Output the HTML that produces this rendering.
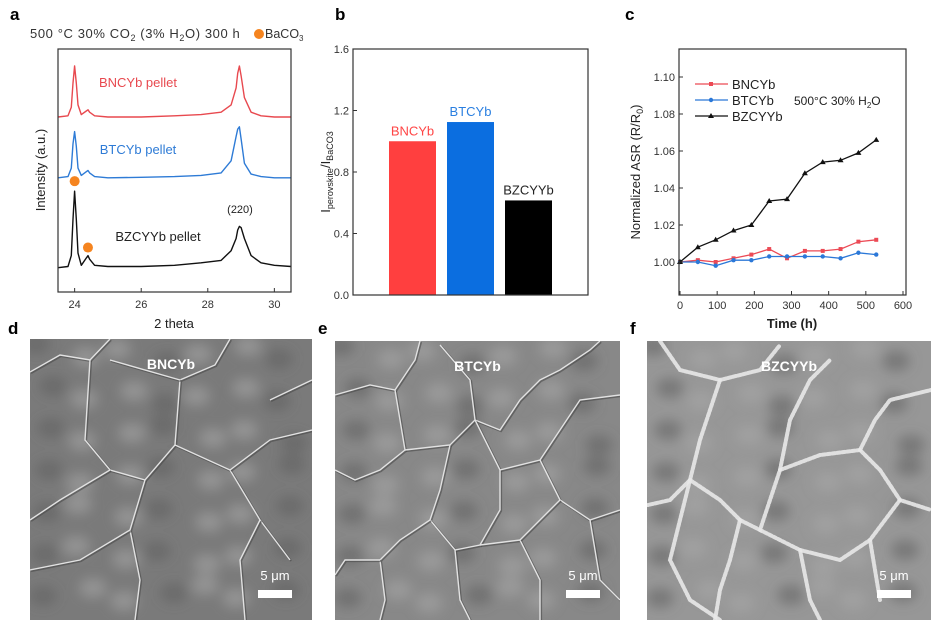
<!DOCTYPE html>
<html><head><meta charset="utf-8"><style>
html,body{margin:0;padding:0;background:#fff;}
svg{display:block;font-family:"Liberation Sans",Arial,sans-serif;}
</style></head><body>
<svg id="fig" width="931" height="631" viewBox="0 0 931 631" xmlns="http://www.w3.org/2000/svg">
<defs>
<filter id="blur6"><feGaussianBlur stdDeviation="6"/></filter>
<clipPath id="cd"><rect x="30" y="339" width="282" height="281"/></clipPath>
<clipPath id="ce"><rect x="335" y="341" width="285" height="279"/></clipPath>
<clipPath id="cf"><rect x="647" y="341" width="284" height="279"/></clipPath>
</defs>
<text x="10" y="20" font-size="17" font-weight="bold">a</text>
<text x="335" y="20" font-size="17" font-weight="bold">b</text>
<text x="625" y="20" font-size="17" font-weight="bold">c</text>
<text x="8" y="334" font-size="17" font-weight="bold">d</text>
<text x="318" y="334" font-size="17" font-weight="bold">e</text>
<text x="630" y="334" font-size="17" font-weight="bold">f</text>

<g id="pa"></g>
<g id="pb"></g>
<g id="pc"></g>
<g id="sem"></g>
</svg>
<script>
const NS="http://www.w3.org/2000/svg";
function mk(parent,tag,attrs,text){const e=document.createElementNS(NS,tag);for(const k in attrs)e.setAttribute(k,attrs[k]);if(text!==undefined)e.textContent=text;parent.appendChild(e);return e;}

// ---------- Panel a data ----------
const xrdTheta=[23.5,23.8,23.9,23.95,24.0,24.05,24.1,24.2,24.35,24.4,24.45,24.6,25,26,27,27.8,28.4,28.7,28.85,28.9,28.95,29.0,29.1,29.3,29.6,30,30.5];
const xrdBNCYb=[72,72.5,76,86,93,86,77,73,74.5,75,74,72.5,72,72,72.5,73,74,77,84,90,93,89,80,74,72.5,72,72];
const xrdBTCYb=[47,47.5,51,61,66,60,51,48,49.5,50,49,47.5,47,47.2,47.5,48,49,54,64,67,68,63,53,48.5,47.5,47,47];
const xrdBZCYYb=[10,10.5,15,30,41.5,30,16,11,14,15,13.5,11,10.5,10.5,11,12,13,17,22,25.5,27,26.5,22,15,12,11,10.5];
const xrdTicks=[24,26,28,30];

// ---------- Panel b data ----------
const barCats=["BNCYb","BTCYb","BZCYYb"];
const barVals=[1.0,1.125,0.615];
const barTicks=[0.0,0.4,0.8,1.2,1.6];

// ---------- Panel c data ----------
const asrTime=[0,48,96,144,192,240,288,336,384,432,480,528];
const asrBNCYb=[1.000,1.001,1.000,1.002,1.004,1.007,1.002,1.006,1.006,1.007,1.011,1.012];
const asrBTCYb=[1.000,1.000,0.998,1.001,1.001,1.003,1.003,1.003,1.003,1.002,1.005,1.004];
const asrBZCYYb=[1.000,1.008,1.012,1.017,1.020,1.033,1.034,1.048,1.054,1.055,1.059,1.066];
const asrXTicks=[0,100,200,300,400,500,600];
const asrYTicks=[1.00,1.02,1.04,1.06,1.08,1.10];

// ===== Panel a =====
(function(){
const g=document.getElementById('pa');
const X0=58,X1=291,Y0=49,Y1=292;
const xs=v=>X0+(v-23.5)/(30.5-23.5)*(X1-X0);
const ys=v=>Y1-v/100*(Y1-Y0);
let t=mk(g,'text',{x:30,y:38,'font-size':13,'letter-spacing':0.6,fill:'#333'});


t.innerHTML='500 °C 30% CO<tspan font-size="9" dy="3">2</tspan><tspan dy="-3"> (3% H</tspan><tspan font-size="9" dy="3">2</tspan><tspan dy="-3">O) 300 h</tspan>';
let c=mk(g,'circle',{cx:259,cy:34,r:5,fill:'#f5841f'});


t=mk(g,'text',{x:265,y:38,'font-size':12.5,fill:'#333'});


t.innerHTML='BaCO<tspan font-size="8" dy="3">3</tspan>';
const series=[[xrdBNCYb,'#e8494f','xrd-line-bncyb'],[xrdBTCYb,'#2e7bd6','xrd-line-btcyb'],[xrdBZCYYb,'#111','xrd-line-bzcyyb']];
series.forEach(s=>{
 const d=xrdTheta.map((v,i)=>(i?'L':'M')+xs(v).toFixed(1)+','+ys(s[0][i]).toFixed(1)).join('');
 const p=mk(g,'path',{d:d,fill:'none',stroke:s[1],'stroke-width':1.4,'stroke-linejoin':'round'});
 
 
});
let r=mk(g,'rect',{x:X0,y:Y0,width:X1-X0,height:Y1-Y0,fill:'none',stroke:'#333','stroke-width':1.2});


xrdTicks.forEach(v=>{
 const l=mk(g,'line',{x1:xs(v),x2:xs(v),y1:Y1,y2:Y1-4,stroke:'#333'});
 
 
 const tt=mk(g,'text',{x:xs(v),y:Y1+16,'font-size':11,'text-anchor':'middle',fill:'#333'},String(v));
 
 
});
[[xs(24.0),ys(41.5)-10],[xs(24.4),ys(15)-8]].forEach(p=>{
 const cc=mk(g,'circle',{cx:p[0],cy:p[1],r:5,fill:'#f5841f'});
 
 
});
const labels=[['BNCYb pellet','#e8494f',138,87],['BTCYb pellet','#2e7bd6',138,154],['BZCYYb pellet','#222',158,241],['(220)','#222',240,213]];
labels.forEach((L,i)=>{
 const tt=mk(g,'text',{x:L[2],y:L[3],'font-size':i==3?11:13,'text-anchor':'middle',fill:L[1]},L[0]);
 
 
});
t=mk(g,'text',{x:174,y:328,'font-size':13,'text-anchor':'middle',fill:'#222'},'2 theta');


t=mk(g,'text',{x:0,y:0,'font-size':13,'text-anchor':'middle',fill:'#222',transform:'translate(45,170) rotate(-90)'},'Intensity (a.u.)');


})();

// ===== Panel b =====
(function(){
const g=document.getElementById('pb');
const X0=353,X1=588,Y0=49,Y1=295;
const ys=v=>Y1-v/1.6*(Y1-Y0);
const colors=['#ff3f3f','#0b6ee0','#000'];
const textCol=['#ff4545','#2a7fe0','#222'];
const starts=[389,447,505],bw=47;
barCats.forEach((c,i)=>{
 const r=mk(g,'rect',{x:starts[i],y:ys(barVals[i]),width:bw,height:Y1-ys(barVals[i]),fill:colors[i]});
 
 
 const t=mk(g,'text',{x:starts[i]+bw/2,y:ys(barVals[i])-6,'font-size':13,'text-anchor':'middle',fill:textCol[i]},c);
 
 
});
let r=mk(g,'rect',{x:X0,y:Y0,width:X1-X0,height:Y1-Y0,fill:'none',stroke:'#333','stroke-width':1.2});


barTicks.forEach(v=>{
 const l=mk(g,'line',{x1:X0,x2:X0+4,y1:ys(v),y2:ys(v),stroke:'#333'});
 
 
 const t=mk(g,'text',{x:X0-4,y:ys(v)+4,'font-size':11,'text-anchor':'end',fill:'#333'},v.toFixed(1));
 
 
});
let t=mk(g,'text',{x:0,y:0,'font-size':13,'text-anchor':'middle',fill:'#222',transform:'translate(330,172) rotate(-90)'});


t.innerHTML='I<tspan font-size="9" dy="3">perovskite</tspan><tspan dy="-3">/I</tspan><tspan font-size="9" dy="3">BaCO3</tspan>';
})();

// ===== Panel c =====
(function(){
const g=document.getElementById('pc');
const X0=679,X1=906,Y0=49,Y1=295;
const xs=v=>680+v/600*(903-680);
const ys=v=>262-(v-1.0)/0.1*(262-77);
const series=[[asrBNCYb,'#ec4a55','square','asr-line-bncyb'],[asrBTCYb,'#2b78d8','circle','asr-line-btcyb'],[asrBZCYYb,'#111','tri','asr-line-bzcyyb']];
series.forEach(s=>{
 const d=asrTime.map((v,i)=>(i?'L':'M')+xs(v).toFixed(1)+','+ys(s[0][i]).toFixed(1)).join('');
 const p=mk(g,'path',{d:d,fill:'none',stroke:s[1],'stroke-width':1.3});
 
 
 asrTime.forEach((v,i)=>{
  const x=xs(v),y=ys(s[0][i]);let m;
  if(s[2]=='tri')m=mk(g,'path',{d:`M${x},${y-3}L${x+3},${y+2}L${x-3},${y+2}Z`,fill:s[1]});
  else if(s[2]=='square')m=mk(g,'rect',{x:x-2,y:y-2,width:4,height:4,fill:s[1]});
  else m=mk(g,'circle',{cx:x,cy:y,r:2.2,fill:s[1]});
  
  
 });
});
let r=mk(g,'rect',{x:X0,y:Y0,width:X1-X0,height:Y1-Y0,fill:'none',stroke:'#333','stroke-width':1.2});


asrXTicks.forEach(v=>{
 const l=mk(g,'line',{x1:xs(v),x2:xs(v),y1:Y1,y2:Y1-4,stroke:'#333'});
 
 
 const t=mk(g,'text',{x:xs(v),y:Y1+14,'font-size':11,'text-anchor':'middle',fill:'#333'},String(v));
 
 
});
asrYTicks.forEach(v=>{
 const l=mk(g,'line',{x1:X0,x2:X0+4,y1:ys(v),y2:ys(v),stroke:'#333'});
 
 
 const t=mk(g,'text',{x:X0-4,y:ys(v)+4,'font-size':11,'text-anchor':'end',fill:'#333'},v.toFixed(2));
 
 
});
const leg=[['BNCYb','#ec4a55','square',84],['BTCYb','#2b78d8','circle',100],['BZCYYb','#111','tri',116]];
leg.forEach(L=>{
 const l=mk(g,'line',{x1:695,x2:728,y1:L[3],y2:L[3],stroke:L[1],'stroke-width':1.3});
 
 
 let m;const x=711,y=L[3];
 if(L[2]=='tri')m=mk(g,'path',{d:`M${x},${y-3}L${x+3},${y+2}L${x-3},${y+2}Z`,fill:L[1]});
 else if(L[2]=='square')m=mk(g,'rect',{x:x-2,y:y-2,width:4,height:4,fill:L[1]});
 else m=mk(g,'circle',{cx:x,cy:y,r:2.2,fill:L[1]});
 
 
 const t=mk(g,'text',{x:732,y:L[3]+5,'font-size':13,fill:'#222'},L[0]);
 
 
});
let t=mk(g,'text',{x:794,y:105,'font-size':12,fill:'#222'});


t.innerHTML='500°C 30% H<tspan font-size="8" dy="3">2</tspan><tspan dy="-3">O</tspan>';
t=mk(g,'text',{x:792,y:328,'font-size':13,'text-anchor':'middle',fill:'#222','font-weight':'bold'},'Time (h)');


t=mk(g,'text',{x:0,y:0,'font-size':13,'text-anchor':'middle',fill:'#222',transform:'translate(640,172) rotate(-90)'});


t.innerHTML='Normalized ASR (R/R<tspan font-size="9" dy="3">0</tspan><tspan dy="-3">)</tspan>';
})();

// ===== SEM images (decorative) =====
(function(){
const g=document.getElementById('sem');
const panels=[
 {x:30,y:339,w:282,h:281,clip:'cd',base:'#7a7a7a',name:'sem-image-bncyb',label:'BNCYb',
  edges:[[[30,372],[60,355],[90,360],[110,339]],[[90,360],[85,440],[110,470],[145,480],[175,445],[180,380],[215,365],[230,339]],[[180,380],[110,360]],[[175,445],[230,470],[260,520],[290,560]],[[145,480],[130,530],[140,580],[135,620]],[[110,470],[60,500],[30,520]],[[130,530],[80,560],[30,570]],[[230,470],[270,440],[312,430]],[[260,520],[240,560],[245,620]],[[270,400],[312,380]]],dots:false},
 {x:335,y:341,w:285,h:279,clip:'ce',base:'#888888',name:'sem-image-btcyb',label:'BTCYb',
  edges:[[[335,395],[370,385],[395,390],[415,360],[420,341]],[[395,390],[405,450],[380,470],[355,480],[335,470]],[[405,450],[450,445],[475,420],[470,380],[440,345]],[[475,420],[500,430],[520,400],[540,380],[560,370]],[[450,445],[440,490],[430,520],[455,550],[480,545],[500,510],[500,470],[475,420]],[[500,470],[540,460],[560,430],[580,400],[620,395]],[[540,460],[560,500],[590,520],[620,510]],[[430,520],[400,540],[380,560],[385,600],[380,620]],[[455,550],[460,600],[470,620]],[[480,545],[520,540],[540,580],[540,620]],[[520,540],[560,500]],[[380,560],[345,560],[335,575]],[[560,370],[590,350],[600,341]],[[590,520],[600,580],[620,600]]],dots:false},
 {x:647,y:341,w:284,h:279,clip:'cf',base:'#979797',name:'sem-image-bzcyyb',label:'BZCYYb',
  edges:[[[660,341],[680,370],[720,380],[760,370],[780,345]],[[720,380],[700,440],[690,480],[670,500],[648,505]],[[690,480],[720,500],[740,520],[760,530],[780,470],[790,420],[810,380],[830,360]],[[780,470],[820,455],[860,450],[880,470],[900,500],[931,510]],[[860,450],[875,420],[890,400],[931,390]],[[740,520],[730,560],[720,590],[715,620]],[[760,530],[800,550],[840,560],[870,540],[900,500]],[[800,550],[810,600],[820,620]],[[870,540],[880,600]],[[690,480],[670,560],[690,600],[720,620]]],dots:true}
];
panels.forEach(P=>{
 const cg=mk(g,'g',{'clip-path':`url(#${P.clip})`});
 
 
 mk(cg,'rect',{x:P.x,y:P.y,width:P.w,height:P.h,fill:P.base});
 const bl=mk(cg,'g',{filter:'url(#blur6)'});
 for(let i=0;i<7;i++)for(let j=0;j<7;j++){
  const sx=P.x+15+i*40+((j*17+i*29)%19)-9, sy=P.y+15+j*40+((i*13+j*23)%21)-10;
  const dark=((i*7+j*3)%3)==0;
  mk(bl,'ellipse',{cx:sx,cy:sy,rx:14,ry:10,fill:dark?'#5e5e5e':'#a8a8a8',opacity:0.55});
 }
 P.edges.forEach(e=>{
  const d=e.map((p,i)=>(i?'L':'M')+p[0]+','+p[1]).join('');
  if(P.dots){
   mk(cg,'path',{d:d,fill:'none',stroke:'#e8e8e8','stroke-width':4,'stroke-dasharray':'3 2','stroke-linecap':'round',opacity:0.9});
  }else{
   mk(cg,'path',{d:d,fill:'none',stroke:'#4a4a4a','stroke-width':2.2,opacity:0.6,transform:'translate(1,1)'});
   mk(cg,'path',{d:d,fill:'none',stroke:'#e2e2e2','stroke-width':1.4});
  }
 });
 const t=mk(cg,'text',{x:P.x+P.w/2,y:P.y+30,'font-size':14,'font-weight':'bold','text-anchor':'middle',fill:'#fff'},P.label);
 
 
 const s=mk(cg,'text',{x:P.x+P.w-37,y:P.y+P.h-40,'font-size':13,'text-anchor':'middle',fill:'#fff'},'5 μm');
 
 
 const b=mk(cg,'rect',{x:P.x+P.w-54,y:P.y+P.h-30,width:34,height:8,fill:'#fff'});
 
 
});
})();
</script>
</body></html>
